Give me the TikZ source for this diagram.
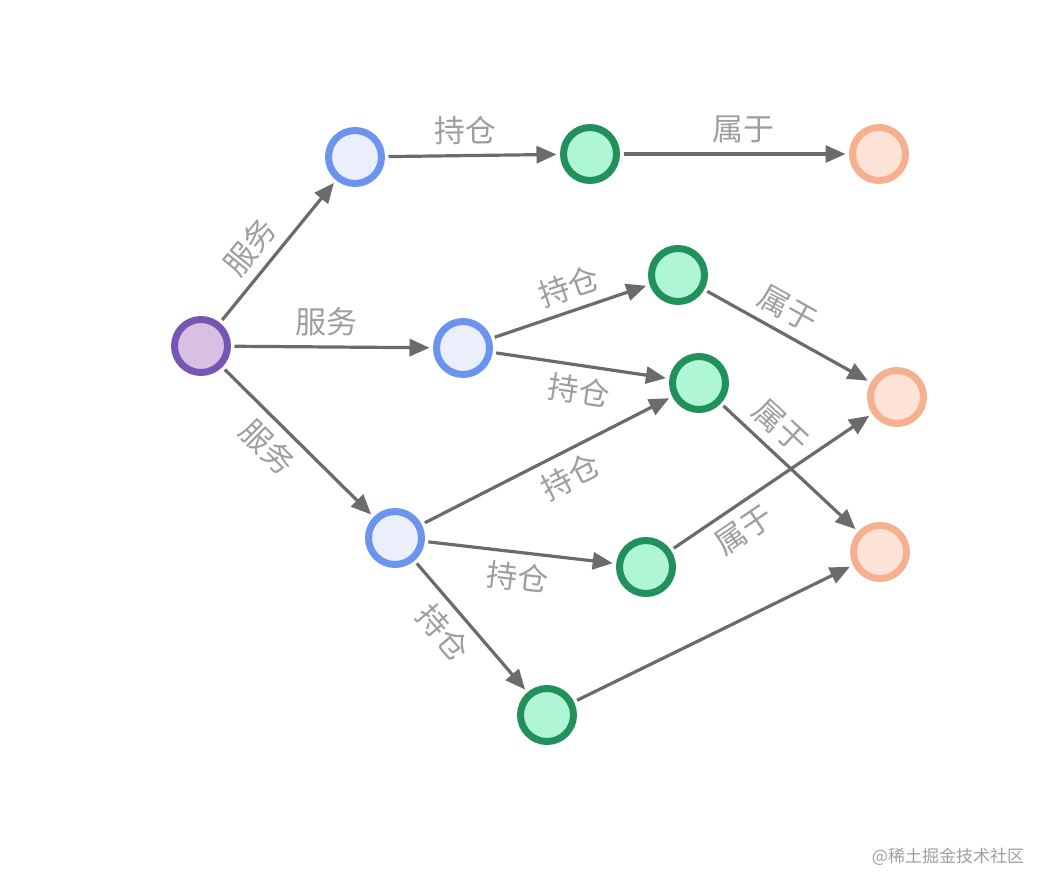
\documentclass[tikz,border=0pt]{standalone}
\usepackage{fontspec}
\newfontfamily\cjk{Noto Sans CJK SC}
\usepackage{xcolor}
\usetikzlibrary{arrows.meta}

\definecolor{hubline}{HTML}{7556B5}
\definecolor{hubfill}{HTML}{D8C0E2}
\definecolor{mgrline}{HTML}{6A94EE}
\definecolor{mgrfill}{HTML}{EBEEFB}
\definecolor{posline}{HTML}{21905A}
\definecolor{posfill}{HTML}{AEF6D6}
\definecolor{orgline}{HTML}{F4B08F}
\definecolor{orgfill}{HTML}{FDE3D7}
\definecolor{edgegray}{HTML}{6B6B6B}
\definecolor{taggray}{HTML}{9E9E9E}

\begin{document}
\begin{tikzpicture}[
    x=1pt, y=-1pt,
    dot/.style={circle, minimum size=53pt, inner sep=0pt, line width=7pt, outer sep=7pt},
    hub/.style={dot, draw=hubline, fill=hubfill},
    mgr/.style={dot, draw=mgrline, fill=mgrfill},
    holding/.style={dot, draw=posline, fill=posfill},
    org/.style={dot, draw=orgline, fill=orgfill},
    link/.style={-{Triangle[length=20pt, width=17pt]}, draw=edgegray, line width=3.2pt},
    tag/.style={font=\cjk\fontsize{31}{31}\selectfont, text=taggray, inner sep=9pt, sloped},
]
\useasboundingbox (0,0) rectangle (1052,892);

% --- nodes ---
\node[hub] (h) at (201,346) {};

\node[mgr] (m1) at (355,157) {};
\node[mgr] (m2) at (463,348) {};
\node[mgr] (m3) at (395,538) {};

\node[holding] (p1) at (590,154) {};
\node[holding] (p2) at (678,275) {};
\node[holding] (p3) at (699,383) {};
\node[holding] (p4) at (646,567) {};
\node[holding] (p5) at (547,715) {};

\node[org] (o1) at (879,154) {};
\node[org] (o2) at (897,397) {};
\node[org] (o3) at (880,552) {};

% --- serves ---
\draw[link] (h) -- node[tag, pos=0.42, above] {服务} (m1);
\draw[link] (h) -- node[tag, pos=0.47, above] {服务} (m2);
\draw[link] (h) -- node[tag, pos=0.41, below] {服务} (m3);

% --- holds ---
\draw[link] (m1) -- node[tag, pos=0.46, above] {持仓} (p1);
\draw[link] (m2) -- node[tag, pos=0.54, above] {持仓} (p2);
\draw[link] (m2) -- node[tag, pos=0.51, below] {持仓} (p3);
\draw[link] (m3) -- node[tag, pos=0.55, below] {持仓} (p3);
\draw[link] (m3) -- node[tag, pos=0.50, below] {持仓} (p4);
\draw[link] (m3) -- node[tag, pos=0.42, below] {持仓} (p5);

% --- belongs to ---
\draw[link] (p1) -- node[tag, pos=0.54, above] {属于} (o1);
\draw[link] (p2) -- node[tag, pos=0.43, above] {属于} (o2);
\draw[link] (p3) -- node[tag, pos=0.31, above] {属于} (o3);
\draw[link] (p4) -- node[tag, pos=0.29, below] {属于} (o2);
\draw[link] (p5) -- (o3);

% watermark
\node[font=\cjk\fontsize{17}{17}\selectfont, text=taggray] (credit) at (948,857) {@稀土掘金技术社区};

\end{tikzpicture}
\end{document}
